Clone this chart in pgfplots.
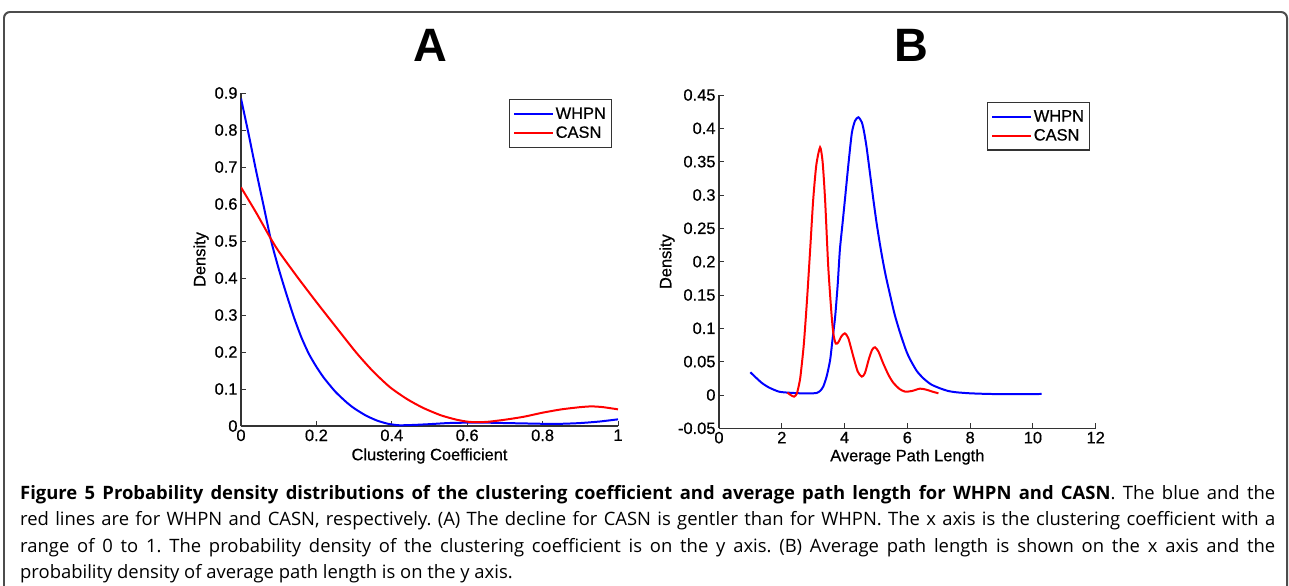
\documentclass[border=0pt]{standalone}
\usepackage{fontspec}
\usepackage{pgfplots}
\pgfplotsset{compat=1.18}
\usepackage{pgfplotstable}
\newfontfamily\arialf{Liberation Sans}
\newfontfamily\arialfb{Liberation Sans}[FakeBold=0.6]
\newfontfamily\capf{Open Sans}
\newcommand\tickfont{\arialfb\fontsize{16.5}{19}\selectfont}
\definecolor{mblue}{RGB}{0,0,255}
\definecolor{mred}{RGB}{255,0,0}

\pgfplotstableread{
x y
0.00 0.885
0.02 0.79
0.04 0.69
0.06 0.595
0.08 0.50
0.10 0.425
0.12 0.358
0.14 0.295
0.16 0.24
0.18 0.195
0.20 0.160
0.22 0.130
0.25 0.093
0.28 0.064
0.30 0.048
0.33 0.029
0.36 0.015
0.39 0.006
0.42 0.002
0.46 0.003
0.50 0.005
0.55 0.008
0.60 0.009
0.65 0.009
0.70 0.008
0.75 0.007
0.80 0.006
0.85 0.006
0.90 0.008
0.95 0.012
1.00 0.018
}\whpnA

\pgfplotstableread{
x y
0.00 0.645
0.04 0.577
0.077 0.51
0.10 0.472
0.15 0.402
0.20 0.335
0.25 0.27
0.306 0.198
0.35 0.148
0.395 0.105
0.44 0.073
0.483 0.049
0.53 0.029
0.572 0.017
0.607 0.011
0.65 0.011
0.70 0.017
0.75 0.025
0.80 0.036
0.85 0.045
0.90 0.051
0.93 0.053
0.96 0.051
1.00 0.045
}\casnA

\pgfplotstableread{
x y
1.00 0.034
1.20 0.025
1.38 0.0175
1.60 0.011
1.91 0.005
2.20 0.0035
2.60 0.0025
3.00 0.0025
3.11 0.003
3.22 0.006
3.32 0.0125
3.43 0.028
3.54 0.0525
3.62 0.085
3.70 0.1175
3.78 0.165
3.85 0.2175
3.93 0.255
4.01 0.2925
4.12 0.345
4.23 0.3925
4.33 0.411
4.44 0.4166
4.55 0.409
4.62 0.395
4.70 0.372
4.80 0.336
4.92 0.292
5.02 0.258
5.12 0.228
5.22 0.201
5.32 0.177
5.45 0.150
5.60 0.120
5.77 0.093
5.95 0.068
6.08 0.054
6.30 0.036
6.51 0.025
6.75 0.016
7.04 0.010
7.30 0.006
7.57 0.004
8.00 0.0025
8.63 0.0015
9.50 0.0012
10.28 0.0015
}\whpnB

\pgfplotstableread{
x y
2.18 0.0035
2.28 0.0
2.39 -0.0025
2.48 0.002
2.56 0.018
2.60 0.03
2.70 0.075
2.80 0.14
2.90 0.215
3.00 0.2925
3.10 0.345
3.22 0.3716
3.30 0.35
3.38 0.2925
3.48 0.1925
3.59 0.1175
3.65 0.09
3.72 0.077
3.80 0.079
3.90 0.088
4.01 0.0925
4.12 0.085
4.28 0.0575
4.42 0.035
4.55 0.0275
4.65 0.033
4.78 0.055
4.88 0.068
4.97 0.0716
5.08 0.065
5.23 0.0475
5.40 0.030
5.55 0.0185
5.75 0.009
5.93 0.005
6.15 0.006
6.40 0.0095
6.60 0.008
6.80 0.005
6.99 0.0025
}\casnB

\pgfplotsset{
  myax/.style={
    scale only axis,
    axis x line*=bottom, axis y line*=left,
    axis line style={line width=1.1pt, draw=black!80, -},
    tick style={line width=0.9pt, draw=black!80},
    tick align=inside,
    major tick length=5bp,
    ticklabel style={font=\tickfont},
    label style={font=\tickfont},
    legend cell align=left,
    legend image code/.code={\draw[##1] (0bp,0bp) -- (39bp,0bp);},
    legend style={draw=black!80, line width=1.1pt, font=\tickfont,
      inner xsep=4bp, inner ysep=6.5bp, row sep=3bp,
      nodes={inner sep=1.5bp}},
    every axis plot/.append style={line width=2pt, smooth, tension=0.4},
  }
}

\begin{document}
\frenchspacing
\begin{tikzpicture}
\path[use as bounding box] (0bp,0bp) rectangle (1289bp,-586bp);
% frame
\draw[black!70, line width=2pt, rounded corners=6bp] (4bp,-620bp) -- (4bp,-12bp) -- (1287bp,-12bp) -- (1287bp,-620bp);
% titles
\node[font=\arialf\bfseries\fontsize{47}{50}\selectfont, anchor=center] at (430bp,-45bp) {A};
\node[font=\arialf\bfseries\fontsize{47}{50}\selectfont, anchor=center] at (911bp,-45bp) {B};

% Panel A
\begin{axis}[myax, at={(241bp,-426bp)}, anchor=south west,
  width=377bp, height=333bp,
  xmin=0, xmax=1, ymin=0, ymax=0.9,
  xtick={0,0.2,0.4,0.6,0.8,1}, xticklabels={0,0.2,0.4,0.6,0.8,1},
  ytick={0,0.1,0.2,0.3,0.4,0.5,0.6,0.7,0.8,0.9},
  yticklabels={0,0.1,0.2,0.3,0.4,0.5,0.6,0.7,0.8,0.9},
  xlabel={Clustering Coefficient}, ylabel={Density},
  xlabel style={at={(axis description cs:0.5,-0.09)}, anchor=center},
  ylabel style={at={(axis description cs:-0.106,0.5)}, anchor=center},
  legend style={at={(0.984,0.982)}, anchor=north east},
]
\addplot[mblue] table {\whpnA};
\addplot[mred] table {\casnA};
\legend{WHPN,CASN}
\end{axis}

% Panel B
\begin{axis}[myax, at={(719bp,-428.3bp)}, anchor=south west,
  width=376.7bp, height=333.3bp,
  xmin=0, xmax=12, ymin=-0.05, ymax=0.45,
  xtick={0,2,4,6,8,10,12}, xticklabels={0,2,4,6,8,10,12},
  ytick={-0.05,0,0.05,0.1,0.15,0.2,0.25,0.3,0.35,0.4,0.45},
  yticklabels={-0.05,0,0.05,0.1,0.15,0.2,0.25,0.3,0.35,0.4,0.45},
  xlabel={Average Path Length}, ylabel={Density},
  xlabel style={at={(axis description cs:0.5,-0.086)}, anchor=center},
  ylabel style={at={(axis description cs:-0.138,0.5)}, anchor=center},
  legend style={at={(0.985,0.980)}, anchor=north east},
]
\addplot[mblue] table {\whpnB};
\addplot[mred] table {\casnB};
\legend{WHPN,CASN}
\end{axis}

% caption
\begin{scope}[every node/.style={anchor=base west, inner sep=0pt, font=\capf\fontsize{18.5}{20}\selectfont}]
\node at (20bp,-499bp) {\makebox[1255bp][s]{\textbf{Figure 5 Probability density distributions of the clustering coefficient and average path length for WHPN and CASN}. The blue and the}};
\node at (20bp,-525.5bp) {\makebox[1255bp][s]{red lines are for WHPN and CASN, respectively. (A) The decline for CASN is gentler than for WHPN. The x axis is the clustering coefficient with a}};
\node at (20bp,-552bp) {\makebox[1255bp][s]{range of 0 to 1. The probability density of the clustering coefficient is on the y axis. (B) Average path length is shown on the x axis and the}};
\node at (20bp,-578.5bp) {probability density of average path length is on the y axis.};
\end{scope}
\end{tikzpicture}
\end{document}
